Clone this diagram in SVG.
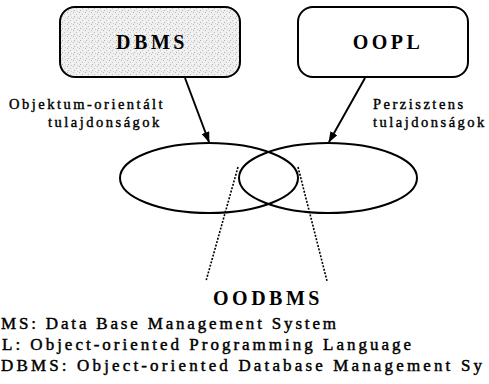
<svg xmlns="http://www.w3.org/2000/svg" width="489" height="384" viewBox="0 0 489 384">
<style>
.box{stroke:#000;stroke-width:2;}
.title{font-family:"Liberation Serif","Times New Roman",serif;font-weight:bold;font-size:20px;letter-spacing:3.5px;fill:#000;text-anchor:middle;}
.lbl{font-family:"Liberation Serif","Times New Roman",serif;font-size:14.5px;letter-spacing:2.5px;fill:#000;stroke:#000;stroke-width:0.4;}
.leg{font-family:"Liberation Serif","Times New Roman",serif;font-size:17px;letter-spacing:3px;fill:#000;stroke:#000;stroke-width:0.45;}
.conn{stroke:#000;stroke-width:2;fill:none;}
.dot{stroke:#000;stroke-width:1.6;fill:none;stroke-dasharray:2 1.5;}
.ell{stroke:#000;stroke-width:2;fill:none;}
</style>
<defs>
<pattern id="speck" width="6" height="6" patternUnits="userSpaceOnUse">
<rect width="6" height="6" fill="#efefef"/>
<rect x="1" y="0" width="1" height="1" fill="#b8b8b8"/>
<rect x="4" y="2" width="1" height="1" fill="#c4c4c4"/>
<rect x="2" y="4" width="1" height="1" fill="#b0b0b0"/>
<rect x="5" y="5" width="1" height="1" fill="#cccccc"/>
<rect x="0" y="3" width="1" height="1" fill="#fafafa"/>
</pattern>
<marker id="ah" markerWidth="11" markerHeight="8" refX="10" refY="4" orient="auto" markerUnits="userSpaceOnUse">
<path d="M0,0 L11,4 L0,8 Z" fill="#000"/>
</marker>
</defs>
<g id="dbms">
<rect class="box" x="60" y="7" width="180" height="70" rx="15" fill="url(#speck)"/>
<text class="title" x="152" y="49">DBMS</text>
</g>
<g id="oopl">
<rect class="box" x="298" y="7" width="170" height="70" rx="15" fill="#fff"/>
<text class="title" x="388" y="49">OOPL</text>
</g>
<g id="left-set">
<ellipse class="ell" cx="209" cy="178" rx="89" ry="35"/>
</g>
<g id="right-set">
<ellipse class="ell" cx="328" cy="178" rx="89" ry="35"/>
</g>
<g id="connectors">
<line class="conn" x1="185" y1="78" x2="209" y2="142" marker-end="url(#ah)"/>
<line class="conn" x1="365" y1="78" x2="329" y2="142" marker-end="url(#ah)"/>
<line class="dot" x1="238" y1="167" x2="206" y2="281"/>
<line class="dot" x1="298" y1="167" x2="327" y2="281"/>
</g>
<g id="labels">
<text class="lbl" x="9" y="109">Objektum-orientált</text>
<text class="lbl" x="48" y="127">tulajdonságok</text>
<text class="lbl" x="373" y="109">Perzisztens</text>
<text class="lbl" x="373" y="127">tulajdonságok</text>
</g>
<g id="oodbms">
<text class="title" x="268" y="305">OODBMS</text>
</g>
<g id="legend">
<text class="leg" x="1" y="329" textLength="338" lengthAdjust="spacing">MS: Data Base Management System</text>
<text class="leg" x="2" y="350">L: Object-oriented Programming Language</text>
<text class="leg" x="1" y="371" textLength="484" lengthAdjust="spacing">DBMS: Object-oriented Database Management Sy</text>
</g>
</svg>
